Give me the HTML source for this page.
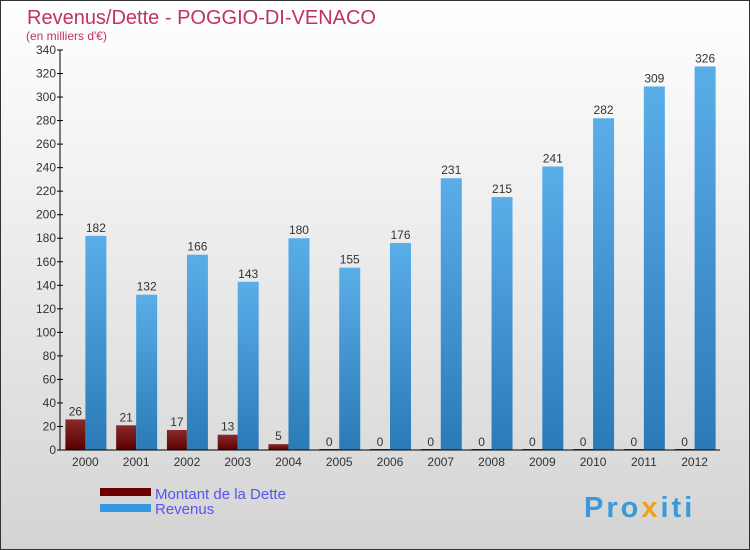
<!DOCTYPE html>
<html><head><meta charset="utf-8"><style>
body{margin:0;}
svg{display:block;font-family:"Liberation Sans",sans-serif;}
</style></head><body>
<svg width="750" height="550" id="c">
<defs>
<linearGradient id="bg" x1="0" y1="0" x2="0" y2="1"><stop offset="0" stop-color="#ffffff"/><stop offset="1" stop-color="#d4d4d4"/></linearGradient>
<linearGradient id="gd" x1="0" y1="0" x2="0" y2="1"><stop offset="0" stop-color="#8a2a2a"/><stop offset="1" stop-color="#5a0000"/></linearGradient>
<linearGradient id="gr" x1="0" y1="0" x2="0" y2="1"><stop offset="0" stop-color="#5aaee8"/><stop offset="1" stop-color="#2a7ab8"/></linearGradient>
</defs>
<rect x="0.5" y="0.5" width="749" height="549" fill="url(#bg)" stroke="#333"/>
<text x="27" y="24" font-size="20" fill="#c0306a">Revenus/Dette - POGGIO-DI-VENACO</text>
<text x="26" y="40" font-size="12" fill="#c0306a">(en milliers d'€)</text>
<g id="plot"></g>
<g>
<rect x="100" y="488" width="51" height="8" fill="#6a0000"/>
<text x="155" y="499" font-size="15" fill="#5555ee">Montant de la Dette</text>
<rect x="100" y="504" width="51" height="8" fill="#3598e0"/>
<text x="155" y="514" font-size="15" fill="#5555ee">Revenus</text>
</g>
<text x="584" y="517" font-size="29" font-weight="bold" letter-spacing="3" fill="#3a9ad8">Pro<tspan fill="#f0a020">x</tspan>iti</text>
</svg>
<script>
const years=["2000","2001","2002","2003","2004","2005","2006","2007","2008","2009","2010","2011","2012"];
const dette=[26,21,17,13,5,0,0,0,0,0,0,0,0];
const revenus=[182,132,166,143,180,155,176,231,215,241,282,309,326];
const yTicks=[0,20,40,60,80,100,120,140,160,180,200,220,240,260,280,300,320,340];
const NS="http://www.w3.org/2000/svg";
const g=document.getElementById('plot');
const x0=60,x1=720,y0=450,y1=50,ymax=340;
const gw=(x1-x0)/years.length;
const y=v=>y0-(v/ymax)*(y0-y1);
function mk(t,a,txt){const e=document.createElementNS(NS,t);for(const k in a)e.setAttribute(k,a[k]);if(txt!==undefined)e.textContent=txt;g.appendChild(e);return e;}
yTicks.forEach(v=>{
 const t=mk('line',{x1:x0-3,x2:x0+3,y1:y(v),y2:y(v),stroke:'#000'});
 
 
 const l=mk('text',{x:x0-4,y:y(v)+4,'font-size':12,'text-anchor':'end',fill:'#333'},v);
 
 
});
years.forEach((yr,i)=>{
 const c=x0+gw*(i+0.5);
 const d=mk('rect',{x:c-20,y:y(dette[i])-(dette[i]>0?0:1),width:20,height:y0-y(dette[i])+(dette[i]>0?0:1),fill:'url(#gd)'});
 
 
 const r=mk('rect',{x:c,y:y(revenus[i]),width:21,height:y0-y(revenus[i]),fill:'url(#gr)'});
 
 
 const dl=mk('text',{x:c-10,y:y(dette[i])-4,'font-size':12,'text-anchor':'middle',fill:'#333'},dette[i]);
 
 
 const rl=mk('text',{x:c+10.5,y:y(revenus[i])-4,'font-size':12,'text-anchor':'middle',fill:'#333'},revenus[i]);
 
 
 const xl=mk('text',{x:c,y:466,'font-size':12,'text-anchor':'middle',fill:'#333'},yr);
 
 
});
const ya=mk('line',{x1:x0,x2:x0,y1:y1,y2:y0,stroke:'#000'});


const xa=mk('line',{x1:x0,x2:x1,y1:y0,y2:y0,stroke:'#000'});


</script>
</body></html>
